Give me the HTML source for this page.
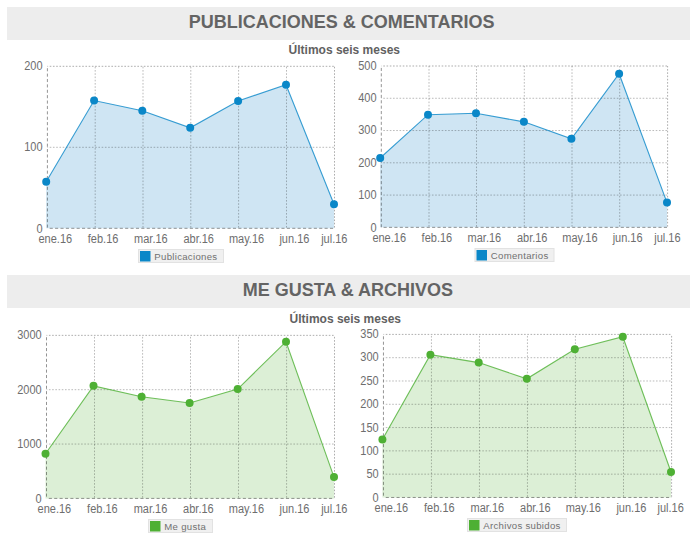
<!DOCTYPE html>
<html><head><meta charset="utf-8"><style>
html,body{margin:0;padding:0;background:#fff;width:697px;height:538px;overflow:hidden;position:relative}
.bar{position:absolute;left:7px;width:683px;height:32.4px;background:#ededed}
.h{position:absolute;font:bold 18px "Liberation Sans",sans-serif;color:#646464;white-space:nowrap;line-height:20px}
.s{position:absolute;font:bold 12px "Liberation Sans",sans-serif;color:#616161;white-space:nowrap;line-height:14px}
svg{position:absolute;left:0;top:0}
.yl,.xl{font:11px "Liberation Sans",sans-serif;fill:#6e6e6e}
.lg{font:9.6px "Liberation Sans",sans-serif;fill:#707070;letter-spacing:0.3px}
</style></head><body>
<div class="bar" style="top:7px;height:33px"></div>
<div class="bar" style="top:275px;height:32.6px"></div>
<div class="h" id="h1" style="left:188.8px;top:12px">PUBLICACIONES &amp; COMENTARIOS</div>
<div class="h" id="h2" style="left:242.7px;top:280px">ME GUSTA &amp; ARCHIVOS</div>
<div class="s" id="s1" style="left:288.6px;top:43px">Últimos seis meses</div>
<div class="s" id="s2" style="left:289.6px;top:311.7px">Últimos seis meses</div>
<svg width="697" height="538" viewBox="0 0 697 538">
<path d="M46.20,228.30 L46.20,181.70 L94.10,100.55 L142.30,110.80 L190.20,127.80 L238.10,101.00 L286.00,84.75 L334.00,204.20 L334.00,228.30 Z" fill="#cfe5f3"/>
<text transform="translate(42.60,232.70) scale(1,1.11)" text-anchor="end" class="yl">0</text>
<line x1="47.4" y1="147.3" x2="334.5" y2="147.3" stroke="rgba(0,0,0,0.27)" stroke-width="1" stroke-dasharray="1.6235 1.6235" stroke-dashoffset="0.942"/>
<text transform="translate(42.60,151.30) scale(1,1.11)" text-anchor="end" class="yl">100</text>
<line x1="47.4" y1="66.3" x2="334.5" y2="66.3" stroke="rgba(0,0,0,0.32)" stroke-width="1" stroke-dasharray="1.6235 1.6235" stroke-dashoffset="0.942"/>
<text transform="translate(42.60,69.90) scale(1,1.11)" text-anchor="end" class="yl">200</text>
<text transform="translate(55.30,242.70) scale(1,1.11)" text-anchor="middle" class="xl">ene.16</text>
<line x1="95.2" y1="228.3" x2="95.2" y2="66.3" stroke="rgba(0,0,0,0.27)" stroke-width="1" stroke-dasharray="1.625 1.625" stroke-dashoffset="2.56"/>
<text transform="translate(103.10,242.70) scale(1,1.11)" text-anchor="middle" class="xl">feb.16</text>
<line x1="143.0" y1="228.3" x2="143.0" y2="66.3" stroke="rgba(0,0,0,0.27)" stroke-width="1" stroke-dasharray="1.625 1.625" stroke-dashoffset="2.56"/>
<text transform="translate(150.90,242.70) scale(1,1.11)" text-anchor="middle" class="xl">mar.16</text>
<line x1="190.8" y1="228.3" x2="190.8" y2="66.3" stroke="rgba(0,0,0,0.27)" stroke-width="1" stroke-dasharray="1.625 1.625" stroke-dashoffset="2.56"/>
<text transform="translate(198.70,242.70) scale(1,1.11)" text-anchor="middle" class="xl">abr.16</text>
<line x1="238.6" y1="228.3" x2="238.6" y2="66.3" stroke="rgba(0,0,0,0.27)" stroke-width="1" stroke-dasharray="1.625 1.625" stroke-dashoffset="2.56"/>
<text transform="translate(246.50,242.70) scale(1,1.11)" text-anchor="middle" class="xl">may.16</text>
<line x1="286.5" y1="228.3" x2="286.5" y2="66.3" stroke="rgba(0,0,0,0.27)" stroke-width="1" stroke-dasharray="1.625 1.625" stroke-dashoffset="2.56"/>
<text transform="translate(294.40,242.70) scale(1,1.11)" text-anchor="middle" class="xl">jun.16</text>
<line x1="334.5" y1="228.3" x2="334.5" y2="66.3" stroke="rgba(0,0,0,0.32)" stroke-width="1" stroke-dasharray="1.625 1.625" stroke-dashoffset="2.56"/>
<text transform="translate(334.30,242.70) scale(1,1.11)" text-anchor="middle" class="xl">jul.16</text>
<line x1="47.4" y1="66.3" x2="47.4" y2="228.3" stroke="rgba(0,0,0,0.42)" stroke-width="1" stroke-dasharray="3.1 2.29" stroke-dashoffset="3.5"/>
<line x1="47.4" y1="228.3" x2="334.5" y2="228.3" stroke="rgba(0,0,0,0.42)" stroke-width="1" stroke-dasharray="3.1 2.29" stroke-dashoffset="3.1"/>
<path d="M46.20,181.70 L94.10,100.55 L142.30,110.80 L190.20,127.80 L238.10,101.00 L286.00,84.75 L334.00,204.20" fill="none" stroke="#0a87c8" stroke-opacity="0.8" stroke-width="1.1"/>
<circle cx="46.20" cy="181.70" r="4" fill="#0a87c8"/>
<circle cx="94.10" cy="100.55" r="4" fill="#0a87c8"/>
<circle cx="142.30" cy="110.80" r="4" fill="#0a87c8"/>
<circle cx="190.20" cy="127.80" r="4" fill="#0a87c8"/>
<circle cx="238.10" cy="101.00" r="4" fill="#0a87c8"/>
<circle cx="286.00" cy="84.75" r="4" fill="#0a87c8"/>
<circle cx="334.00" cy="204.20" r="4" fill="#0a87c8"/>
<rect x="138.5" y="249.5" width="85" height="13" fill="#f0f0f0" stroke="#e2e2e2" stroke-width="1"/>
<rect x="140" y="251" width="10.5" height="10.5" fill="#0a87c8"/>
<text x="154.3" y="259.9" class="lg">Publicaciones</text>
<path d="M380.20,227.35 L380.20,158.00 L428.00,114.70 L476.00,113.20 L523.90,121.85 L571.40,138.80 L619.10,73.70 L667.00,202.60 L667.00,227.35 Z" fill="#cfe5f3"/>
<text transform="translate(376.50,231.75) scale(1,1.11)" text-anchor="end" class="yl">0</text>
<line x1="381.3" y1="195.08" x2="667.6" y2="195.08" stroke="rgba(0,0,0,0.27)" stroke-width="1" stroke-dasharray="1.6215 1.6215" stroke-dashoffset="1.251"/>
<text transform="translate(376.50,199.32) scale(1,1.11)" text-anchor="end" class="yl">100</text>
<line x1="381.3" y1="162.81" x2="667.6" y2="162.81" stroke="rgba(0,0,0,0.27)" stroke-width="1" stroke-dasharray="1.6215 1.6215" stroke-dashoffset="1.251"/>
<text transform="translate(376.50,166.89) scale(1,1.11)" text-anchor="end" class="yl">200</text>
<line x1="381.3" y1="130.54" x2="667.6" y2="130.54" stroke="rgba(0,0,0,0.27)" stroke-width="1" stroke-dasharray="1.6215 1.6215" stroke-dashoffset="1.251"/>
<text transform="translate(376.50,134.46) scale(1,1.11)" text-anchor="end" class="yl">300</text>
<line x1="381.3" y1="98.27" x2="667.6" y2="98.27" stroke="rgba(0,0,0,0.27)" stroke-width="1" stroke-dasharray="1.6215 1.6215" stroke-dashoffset="1.251"/>
<text transform="translate(376.50,102.03) scale(1,1.11)" text-anchor="end" class="yl">400</text>
<line x1="381.3" y1="66.0" x2="667.6" y2="66.0" stroke="rgba(0,0,0,0.32)" stroke-width="1" stroke-dasharray="1.6215 1.6215" stroke-dashoffset="1.251"/>
<text transform="translate(376.50,69.60) scale(1,1.11)" text-anchor="end" class="yl">500</text>
<text transform="translate(389.20,241.75) scale(1,1.11)" text-anchor="middle" class="xl">ene.16</text>
<line x1="429.0" y1="227.35" x2="429.0" y2="66.0" stroke="rgba(0,0,0,0.27)" stroke-width="1" stroke-dasharray="1.625 1.625" stroke-dashoffset="2.56"/>
<text transform="translate(436.90,241.75) scale(1,1.11)" text-anchor="middle" class="xl">feb.16</text>
<line x1="476.5" y1="227.35" x2="476.5" y2="66.0" stroke="rgba(0,0,0,0.27)" stroke-width="1" stroke-dasharray="1.625 1.625" stroke-dashoffset="2.56"/>
<text transform="translate(484.40,241.75) scale(1,1.11)" text-anchor="middle" class="xl">mar.16</text>
<line x1="524.3" y1="227.35" x2="524.3" y2="66.0" stroke="rgba(0,0,0,0.27)" stroke-width="1" stroke-dasharray="1.625 1.625" stroke-dashoffset="2.56"/>
<text transform="translate(532.20,241.75) scale(1,1.11)" text-anchor="middle" class="xl">abr.16</text>
<line x1="572.0" y1="227.35" x2="572.0" y2="66.0" stroke="rgba(0,0,0,0.27)" stroke-width="1" stroke-dasharray="1.625 1.625" stroke-dashoffset="2.56"/>
<text transform="translate(579.90,241.75) scale(1,1.11)" text-anchor="middle" class="xl">may.16</text>
<line x1="619.7" y1="227.35" x2="619.7" y2="66.0" stroke="rgba(0,0,0,0.27)" stroke-width="1" stroke-dasharray="1.625 1.625" stroke-dashoffset="2.56"/>
<text transform="translate(627.60,241.75) scale(1,1.11)" text-anchor="middle" class="xl">jun.16</text>
<line x1="667.6" y1="227.35" x2="667.6" y2="66.0" stroke="rgba(0,0,0,0.32)" stroke-width="1" stroke-dasharray="1.625 1.625" stroke-dashoffset="2.56"/>
<text transform="translate(667.40,241.75) scale(1,1.11)" text-anchor="middle" class="xl">jul.16</text>
<line x1="381.3" y1="66.0" x2="381.3" y2="227.35" stroke="rgba(0,0,0,0.42)" stroke-width="1" stroke-dasharray="3.1 2.29" stroke-dashoffset="3.5"/>
<line x1="381.3" y1="227.35" x2="667.6" y2="227.35" stroke="rgba(0,0,0,0.42)" stroke-width="1" stroke-dasharray="3.1 2.29" stroke-dashoffset="3.1"/>
<path d="M380.20,158.00 L428.00,114.70 L476.00,113.20 L523.90,121.85 L571.40,138.80 L619.10,73.70 L667.00,202.60" fill="none" stroke="#0a87c8" stroke-opacity="0.8" stroke-width="1.1"/>
<circle cx="380.20" cy="158.00" r="4" fill="#0a87c8"/>
<circle cx="428.00" cy="114.70" r="4" fill="#0a87c8"/>
<circle cx="476.00" cy="113.20" r="4" fill="#0a87c8"/>
<circle cx="523.90" cy="121.85" r="4" fill="#0a87c8"/>
<circle cx="571.40" cy="138.80" r="4" fill="#0a87c8"/>
<circle cx="619.10" cy="73.70" r="4" fill="#0a87c8"/>
<circle cx="667.00" cy="202.60" r="4" fill="#0a87c8"/>
<rect x="475.0" y="248.5" width="79" height="13" fill="#f0f0f0" stroke="#e2e2e2" stroke-width="1"/>
<rect x="476.5" y="250" width="10.5" height="10.5" fill="#0a87c8"/>
<text x="490.8" y="258.9" class="lg">Comentarios</text>
<path d="M45.50,498.40 L45.50,453.70 L93.50,385.85 L141.60,396.70 L189.60,403.00 L237.70,389.10 L286.00,341.70 L334.00,477.10 L334.00,498.40 Z" fill="#dcefd6"/>
<text transform="translate(41.70,502.80) scale(1,1.11)" text-anchor="end" class="yl">0</text>
<line x1="46.5" y1="444.05" x2="334.5" y2="444.05" stroke="rgba(0,0,0,0.27)" stroke-width="1" stroke-dasharray="1.6085 1.6085" stroke-dashoffset="0.804"/>
<text transform="translate(41.70,448.18) scale(1,1.11)" text-anchor="end" class="yl">1000</text>
<line x1="46.5" y1="389.7" x2="334.5" y2="389.7" stroke="rgba(0,0,0,0.27)" stroke-width="1" stroke-dasharray="1.6085 1.6085" stroke-dashoffset="0.804"/>
<text transform="translate(41.70,393.57) scale(1,1.11)" text-anchor="end" class="yl">2000</text>
<line x1="46.5" y1="335.35" x2="334.5" y2="335.35" stroke="rgba(0,0,0,0.32)" stroke-width="1" stroke-dasharray="1.6085 1.6085" stroke-dashoffset="0.804"/>
<text transform="translate(41.70,338.95) scale(1,1.11)" text-anchor="end" class="yl">3000</text>
<text transform="translate(54.40,512.80) scale(1,1.11)" text-anchor="middle" class="xl">ene.16</text>
<line x1="94.5" y1="498.4" x2="94.5" y2="335.35" stroke="rgba(0,0,0,0.27)" stroke-width="1" stroke-dasharray="1.625 1.625" stroke-dashoffset="2.56"/>
<text transform="translate(102.40,512.80) scale(1,1.11)" text-anchor="middle" class="xl">feb.16</text>
<line x1="142.6" y1="498.4" x2="142.6" y2="335.35" stroke="rgba(0,0,0,0.27)" stroke-width="1" stroke-dasharray="1.625 1.625" stroke-dashoffset="2.56"/>
<text transform="translate(150.50,512.80) scale(1,1.11)" text-anchor="middle" class="xl">mar.16</text>
<line x1="190.5" y1="498.4" x2="190.5" y2="335.35" stroke="rgba(0,0,0,0.27)" stroke-width="1" stroke-dasharray="1.625 1.625" stroke-dashoffset="2.56"/>
<text transform="translate(198.40,512.80) scale(1,1.11)" text-anchor="middle" class="xl">abr.16</text>
<line x1="238.5" y1="498.4" x2="238.5" y2="335.35" stroke="rgba(0,0,0,0.27)" stroke-width="1" stroke-dasharray="1.625 1.625" stroke-dashoffset="2.56"/>
<text transform="translate(246.40,512.80) scale(1,1.11)" text-anchor="middle" class="xl">may.16</text>
<line x1="286.6" y1="498.4" x2="286.6" y2="335.35" stroke="rgba(0,0,0,0.27)" stroke-width="1" stroke-dasharray="1.625 1.625" stroke-dashoffset="2.56"/>
<text transform="translate(294.50,512.80) scale(1,1.11)" text-anchor="middle" class="xl">jun.16</text>
<line x1="334.5" y1="498.4" x2="334.5" y2="335.35" stroke="rgba(0,0,0,0.32)" stroke-width="1" stroke-dasharray="1.625 1.625" stroke-dashoffset="2.56"/>
<text transform="translate(334.30,512.80) scale(1,1.11)" text-anchor="middle" class="xl">jul.16</text>
<line x1="46.5" y1="335.35" x2="46.5" y2="498.4" stroke="rgba(0,0,0,0.42)" stroke-width="1" stroke-dasharray="3.1 2.29" stroke-dashoffset="3.5"/>
<line x1="46.5" y1="498.4" x2="334.5" y2="498.4" stroke="rgba(0,0,0,0.42)" stroke-width="1" stroke-dasharray="3.1 2.29" stroke-dashoffset="3.1"/>
<path d="M45.50,453.70 L93.50,385.85 L141.60,396.70 L189.60,403.00 L237.70,389.10 L286.00,341.70 L334.00,477.10" fill="none" stroke="#4eb034" stroke-opacity="0.8" stroke-width="1.1"/>
<circle cx="45.50" cy="453.70" r="4" fill="#4eb034"/>
<circle cx="93.50" cy="385.85" r="4" fill="#4eb034"/>
<circle cx="141.60" cy="396.70" r="4" fill="#4eb034"/>
<circle cx="189.60" cy="403.00" r="4" fill="#4eb034"/>
<circle cx="237.70" cy="389.10" r="4" fill="#4eb034"/>
<circle cx="286.00" cy="341.70" r="4" fill="#4eb034"/>
<circle cx="334.00" cy="477.10" r="4" fill="#4eb034"/>
<rect x="148.5" y="519.5" width="64" height="13" fill="#f0f0f0" stroke="#e2e2e2" stroke-width="1"/>
<rect x="150" y="521" width="10.5" height="10.5" fill="#4eb034"/>
<text x="164.3" y="529.9" class="lg">Me gusta</text>
<path d="M382.40,497.46 L382.40,439.50 L430.40,354.70 L478.70,362.60 L526.80,378.80 L574.80,349.20 L622.80,336.70 L671.00,472.00 L671.00,497.46 Z" fill="#dcefd6"/>
<text transform="translate(378.65,501.86) scale(1,1.11)" text-anchor="end" class="yl">0</text>
<line x1="383.45" y1="474.166" x2="671.6" y2="474.166" stroke="rgba(0,0,0,0.27)" stroke-width="1" stroke-dasharray="1.6085 1.6085" stroke-dashoffset="0.904"/>
<text transform="translate(378.65,478.45) scale(1,1.11)" text-anchor="end" class="yl">50</text>
<line x1="383.45" y1="450.871" x2="671.6" y2="450.871" stroke="rgba(0,0,0,0.27)" stroke-width="1" stroke-dasharray="1.6085 1.6085" stroke-dashoffset="0.904"/>
<text transform="translate(378.65,455.04) scale(1,1.11)" text-anchor="end" class="yl">100</text>
<line x1="383.45" y1="427.577" x2="671.6" y2="427.577" stroke="rgba(0,0,0,0.27)" stroke-width="1" stroke-dasharray="1.6085 1.6085" stroke-dashoffset="0.904"/>
<text transform="translate(378.65,431.63) scale(1,1.11)" text-anchor="end" class="yl">150</text>
<line x1="383.45" y1="404.283" x2="671.6" y2="404.283" stroke="rgba(0,0,0,0.27)" stroke-width="1" stroke-dasharray="1.6085 1.6085" stroke-dashoffset="0.904"/>
<text transform="translate(378.65,408.23) scale(1,1.11)" text-anchor="end" class="yl">200</text>
<line x1="383.45" y1="380.989" x2="671.6" y2="380.989" stroke="rgba(0,0,0,0.27)" stroke-width="1" stroke-dasharray="1.6085 1.6085" stroke-dashoffset="0.904"/>
<text transform="translate(378.65,384.82) scale(1,1.11)" text-anchor="end" class="yl">250</text>
<line x1="383.45" y1="357.694" x2="671.6" y2="357.694" stroke="rgba(0,0,0,0.27)" stroke-width="1" stroke-dasharray="1.6085 1.6085" stroke-dashoffset="0.904"/>
<text transform="translate(378.65,361.41) scale(1,1.11)" text-anchor="end" class="yl">300</text>
<line x1="383.45" y1="334.4" x2="671.6" y2="334.4" stroke="rgba(0,0,0,0.32)" stroke-width="1" stroke-dasharray="1.6085 1.6085" stroke-dashoffset="0.904"/>
<text transform="translate(378.65,338.00) scale(1,1.11)" text-anchor="end" class="yl">350</text>
<text transform="translate(391.35,511.86) scale(1,1.11)" text-anchor="middle" class="xl">ene.16</text>
<line x1="431.45" y1="497.46" x2="431.45" y2="334.4" stroke="rgba(0,0,0,0.27)" stroke-width="1" stroke-dasharray="1.625 1.625" stroke-dashoffset="2.56"/>
<text transform="translate(439.35,511.86) scale(1,1.11)" text-anchor="middle" class="xl">feb.16</text>
<line x1="479.45" y1="497.46" x2="479.45" y2="334.4" stroke="rgba(0,0,0,0.27)" stroke-width="1" stroke-dasharray="1.625 1.625" stroke-dashoffset="2.56"/>
<text transform="translate(487.35,511.86) scale(1,1.11)" text-anchor="middle" class="xl">mar.16</text>
<line x1="527.45" y1="497.46" x2="527.45" y2="334.4" stroke="rgba(0,0,0,0.27)" stroke-width="1" stroke-dasharray="1.625 1.625" stroke-dashoffset="2.56"/>
<text transform="translate(535.35,511.86) scale(1,1.11)" text-anchor="middle" class="xl">abr.16</text>
<line x1="575.4" y1="497.46" x2="575.4" y2="334.4" stroke="rgba(0,0,0,0.27)" stroke-width="1" stroke-dasharray="1.625 1.625" stroke-dashoffset="2.56"/>
<text transform="translate(583.30,511.86) scale(1,1.11)" text-anchor="middle" class="xl">may.16</text>
<line x1="623.5" y1="497.46" x2="623.5" y2="334.4" stroke="rgba(0,0,0,0.27)" stroke-width="1" stroke-dasharray="1.625 1.625" stroke-dashoffset="2.56"/>
<text transform="translate(631.40,511.86) scale(1,1.11)" text-anchor="middle" class="xl">jun.16</text>
<line x1="671.6" y1="497.46" x2="671.6" y2="334.4" stroke="rgba(0,0,0,0.32)" stroke-width="1" stroke-dasharray="1.625 1.625" stroke-dashoffset="2.56"/>
<text transform="translate(670.70,511.86) scale(1,1.11)" text-anchor="middle" class="xl">jul.16</text>
<line x1="383.45" y1="334.4" x2="383.45" y2="497.46" stroke="rgba(0,0,0,0.42)" stroke-width="1" stroke-dasharray="3.1 2.29" stroke-dashoffset="3.5"/>
<line x1="383.45" y1="497.46" x2="671.6" y2="497.46" stroke="rgba(0,0,0,0.42)" stroke-width="1" stroke-dasharray="3.1 2.29" stroke-dashoffset="3.1"/>
<path d="M382.40,439.50 L430.40,354.70 L478.70,362.60 L526.80,378.80 L574.80,349.20 L622.80,336.70 L671.00,472.00" fill="none" stroke="#4eb034" stroke-opacity="0.8" stroke-width="1.1"/>
<circle cx="382.40" cy="439.50" r="4" fill="#4eb034"/>
<circle cx="430.40" cy="354.70" r="4" fill="#4eb034"/>
<circle cx="478.70" cy="362.60" r="4" fill="#4eb034"/>
<circle cx="526.80" cy="378.80" r="4" fill="#4eb034"/>
<circle cx="574.80" cy="349.20" r="4" fill="#4eb034"/>
<circle cx="622.80" cy="336.70" r="4" fill="#4eb034"/>
<circle cx="671.00" cy="472.00" r="4" fill="#4eb034"/>
<rect x="467.5" y="518.5" width="99" height="13" fill="#f0f0f0" stroke="#e2e2e2" stroke-width="1"/>
<rect x="469" y="520" width="10.5" height="10.5" fill="#4eb034"/>
<text x="483.3" y="528.9" class="lg">Archivos subidos</text>
</svg>
</body></html>
